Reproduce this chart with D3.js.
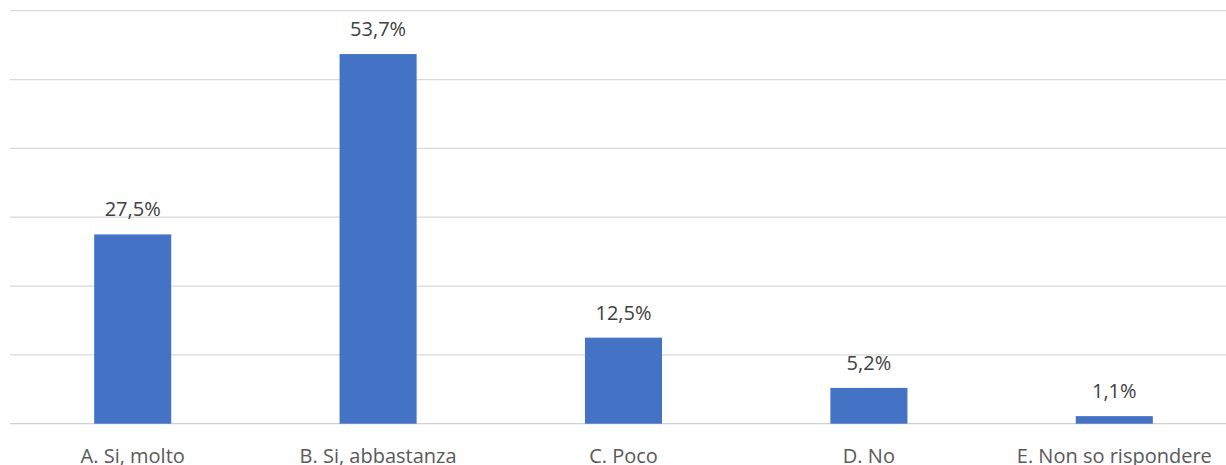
<!DOCTYPE html>
<html><head><meta charset="utf-8">
<script src="https://cdn.jsdelivr.net/npm/d3@7"></script>
<style>body{margin:0;background:#fff;}svg{display:block;}</style>
</head><body>
<script>
const categories = ["A. Si, molto","B. Si, abbastanza","C. Poco","D. No","E. Non so rispondere"];
const values = [27.5, 53.7, 12.5, 5.2, 1.1];
const valueLabels = ["27,5%","53,7%","12,5%","5,2%","1,1%"];
const yTicks = [0,10,20,30,40,50,60];

const W = 1226, H = 465;
const svg = d3.select("body").append("svg").attr("width", W).attr("height", H);
const x = d3.scaleBand().domain(categories).range([10, 1237]).paddingInner(0.686).paddingOuter(0.343);
const y = d3.scaleLinear().domain([0, 60]).range([423.7, 10.7]);

svg.append("g").selectAll("line").data(yTicks).join("line")
  .attr("x1", 10).attr("x2", W).attr("y1", d => y(d)).attr("y2", d => y(d))
  .attr("stroke", d => d === 0 ? "#d0d0d0" : "#d9d9d9").attr("stroke-width", 1.3);

svg.append("g").selectAll("rect").data(values).join("rect")
  .attr("x", (d,i) => x(categories[i])).attr("width", x.bandwidth())
  .attr("y", d => y(d)).attr("height", d => y(0) - y(d))
  .attr("fill", "#4472c4");

svg.append("g").selectAll("text").data(values).join("text")
  .attr("x", (d,i) => x(categories[i]) + x.bandwidth()/2)
  .attr("y", d => y(d) - 18)
  .attr("text-anchor", "middle").attr("font-family", "'Open Sans', sans-serif")
  .attr("font-size", 20).attr("fill", "#404040")
  .text((d,i) => valueLabels[i]);

svg.append("g").selectAll("text").data(categories).join("text")
  .attr("x", d => x(d) + x.bandwidth()/2).attr("y", 462.5)
  .attr("text-anchor", "middle").attr("font-family", "'Open Sans', sans-serif")
  .attr("font-size", 20).attr("fill", "#595959")
  .text(d => d);
</script>
</body></html>
